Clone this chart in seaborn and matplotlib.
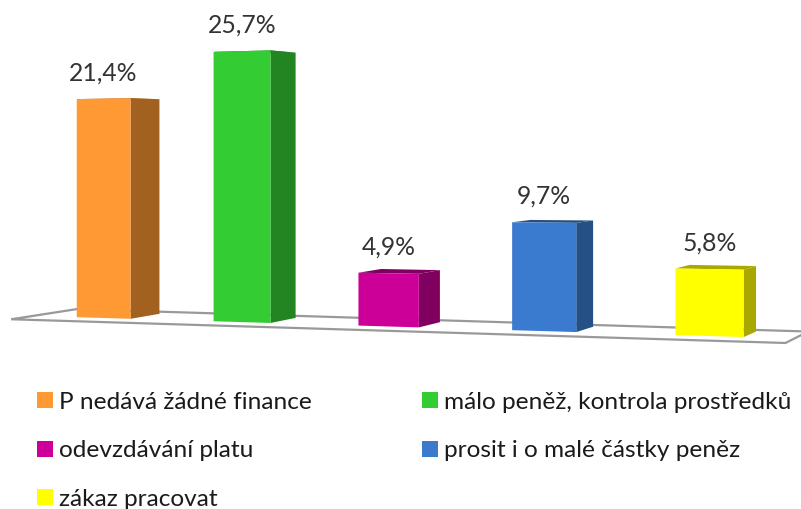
import numpy as np
import matplotlib
matplotlib.use("Agg")
import matplotlib.pyplot as plt
from matplotlib.patches import Patch, Polygon
from matplotlib.transforms import Transform
import pandas as pd
import seaborn as sns

categories = ["P nedává žádné finance", "málo peněž, kontrola prostředků",
              "odevzdávání platu", "prosit i o malé částky peněz", "zákaz pracovat"]
values = [21.4, 25.7, 4.9, 9.7, 5.8]
front_colors = ["#FF9933", "#33CC33", "#CC0099", "#3A7BCF", "#FFFF00"]
side_colors = ["#A3611F", "#228522", "#800060", "#245085", "#A8A800"]

# the sheet the old 3D chart stands on
VANISH = np.array([1200.0, 135.0])


class Perspective(Transform):
    """ Category position and percent to pixels, closer to the viewer on the right. """
    input_dims = 2
    output_dims = 2

    def transform_non_affine(self, xy):
        xy = np.asarray(xy, dtype=float)
        w = 1 - 0.028 * xy[:, 0]
        px = (103.5 + 131.6 * xy[:, 0]) / w
        py = (318 - 4.9 * xy[:, 0] - 10.25 * xy[:, 1]) / w
        return np.column_stack([px, py])


def push_back(points, depth):
    """ Move projected points away from the viewer, towards the vanishing point. """
    return points + depth * (VANISH - points)


plt.rcParams["font.family"] = ["Lato", "DejaVu Sans"]

data = pd.DataFrame({"category": categories, "value": values})

fig, ax = plt.subplots(figsize=(8.01, 5.09), dpi=100)
fig.subplots_adjust(0, 0, 1, 1)

sns.barplot(data=data, x="category", y="value", hue="category", palette=front_colors,
            width=0.4, dodge=False, legend=False, saturation=1, linewidth=0, ax=ax)

ax.set_xlim(0, 801)
ax.set_ylim(509, 0)
ax.axis("off")

persp = Perspective()
to_pixels = persp + ax.transData

# floor
floor_front = persp.transform(np.array([[-0.7, -0.4], [4.44, -0.4]]))
floor_back = push_back(floor_front, 0.055)
ax.add_patch(Polygon(np.vstack([floor_front, floor_back[::-1]]), closed=True, facecolor="white",
                     edgecolor="#999999", linewidth=1.6, zorder=1, clip_on=False))

for bar, side, value in zip(ax.patches, side_colors, values):
    corners = persp.transform(bar.get_corners())
    # corners: bottom left, bottom right, top right, top left
    back = push_back(corners, 0.027)
    ax.add_patch(Polygon([corners[1], back[1], back[2], corners[2]], closed=True,
                         facecolor=side, edgecolor="none", zorder=2))
    ax.add_patch(Polygon([corners[3], corners[2], back[2], back[3]], closed=True,
                         facecolor=side, edgecolor="none", zorder=2))
    bar.set_transform(to_pixels)
    bar.set_zorder(3)

    mid_x = bar.get_x() + bar.get_width() / 2
    px, py = persp.transform(np.array([[mid_x, value]]))[0]
    ax.text(px, py - 26, f"{value:.1f}%".replace(".", ","), ha="center", va="center",
            fontsize=17.8, color="#333333")

# legend fills by column, the reference reads by row
order = [0, 2, 4, 1, 3]
handles = [Patch(facecolor=front_colors[i], edgecolor="none", label=categories[i]) for i in order]
ax.legend(handles=handles, ncol=2, loc="upper left", bbox_to_anchor=(37, 392),
          bbox_transform=ax.transData, frameon=False, fontsize=17.6, labelcolor="#1A1A1A",
          handlelength=0.64, handleheight=0.64, handletextpad=0.26, labelspacing=1.12,
          columnspacing=4.5, borderpad=0, borderaxespad=0)

plt.savefig("out.png", dpi=100)
